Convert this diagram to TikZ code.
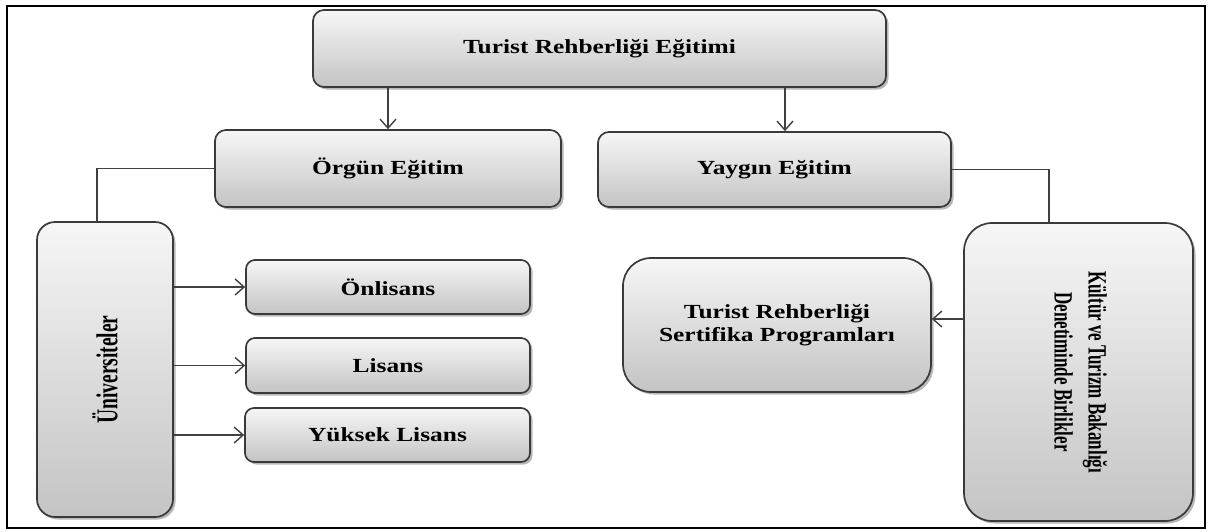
\documentclass[tikz,border=0pt]{standalone}
\usepackage{fontspec}
\usepackage{graphicx}
\setmainfont{Liberation Serif}
\usetikzlibrary{arrows.meta,shadows}

\definecolor{boxtop}{RGB}{246,246,246}
\definecolor{boxbot}{RGB}{196,196,196}
\definecolor{edge}{RGB}{58,58,58}
\definecolor{wire}{RGB}{64,64,64}

% horizontal labels are set wide, vertical labels tall
\newcommand{\widetext}[1]{\scalebox{1.27}[1]{#1}}
\newcommand{\uptext}[1]{\rotatebox{90}{\scalebox{1}[1.55]{#1}}}
\newcommand{\downtext}[1]{\rotatebox{-90}{\scalebox{1}[1.55]{#1}}}

\tikzset{
  box/.style={draw=edge, line width=1.7pt, top color=boxtop, bottom color=boxbot,
    drop shadow={shadow xshift=2.5pt, shadow yshift=-2.5pt, fill=black, opacity=0.28},
    inner sep=0pt, align=center, text=black,
    font=\bfseries\fontsize{20}{23}\selectfont},
  link/.style={draw=wire, line width=1.8pt},
  arr/.style={link, -{Straight Barb[length=9pt,width=16pt,line width=1.4pt]}},
}

\begin{document}
\begin{tikzpicture}[x=1pt,y=-1pt]
\useasboundingbox (0,0) rectangle (1209,531);
\fill[white] (0,0) rectangle (1209,531);
\draw[line width=2pt] (7,6) rectangle (1205,528);

% boxes
\node[box, rounded corners=11pt, minimum width=573pt, minimum height=77pt] (top) at (599.5,48.5) {\widetext{Turist Rehberliği Eğitimi}};
\node[box, rounded corners=11pt, minimum width=346pt, minimum height=77pt] (org) at (388,168.5) {\widetext{Örgün Eğitim}};
\node[box, rounded corners=11pt, minimum width=353pt, minimum height=75pt] (yay) at (774.5,169.5) {\widetext{Yaygın Eğitim}};
\node[box, rounded corners=18pt, minimum width=136pt, minimum height=295pt] (uni) at (105,369.5) {\uptext{\fontsize{19.5}{22}\selectfont Üniversiteler}};
\node[box, rounded corners=9pt, minimum width=284pt, minimum height=54pt] (onl) at (388,287) {\widetext{Önlisans}};
\node[box, rounded corners=9pt, minimum width=284pt, minimum height=55pt] (lis) at (388,365.5) {\widetext{Lisans}};
\node[box, rounded corners=9pt, minimum width=285pt, minimum height=54pt] (yuk) at (387.5,435) {\widetext{Yüksek Lisans}};
\node[box, rounded corners=28pt, minimum width=308pt, minimum height=134pt] (sert) at (777,325) {\widetext{\begin{tabular}{@{}c@{}}Turist Rehberliği\\Sertifika Programları\end{tabular}}};
\node[box, rounded corners=28pt, minimum width=229pt, minimum height=298pt] (kul) at (1078.5,372) {\downtext{\fontsize{17}{22}\selectfont\begin{tabular}{@{}c@{}}Kültür ve Turizm Bakanlığı\\Denetiminde Birlikler\end{tabular}}};

% connectors
\draw[arr] (top.south -| org.north) -- (org.north);
\draw[arr] (top.south -| 785,0) -- (yay.north -| 785,0);
\draw[link] (org.west) -| ([xshift=-8pt]uni.north);
\draw[link] (yay.east) -| ([xshift=-29.5pt]kul.north);
\draw[arr] (uni.east |- onl.west) -- (onl.west);
\draw[arr] (uni.east |- lis.west) -- (lis.west);
\draw[arr] (uni.east |- yuk.west) -- (yuk.west);
\draw[arr] (kul.west |- sert.east) ++(0,-6) coordinate (kin) -- (sert.east |- kin);
\end{tikzpicture}
\end{document}
